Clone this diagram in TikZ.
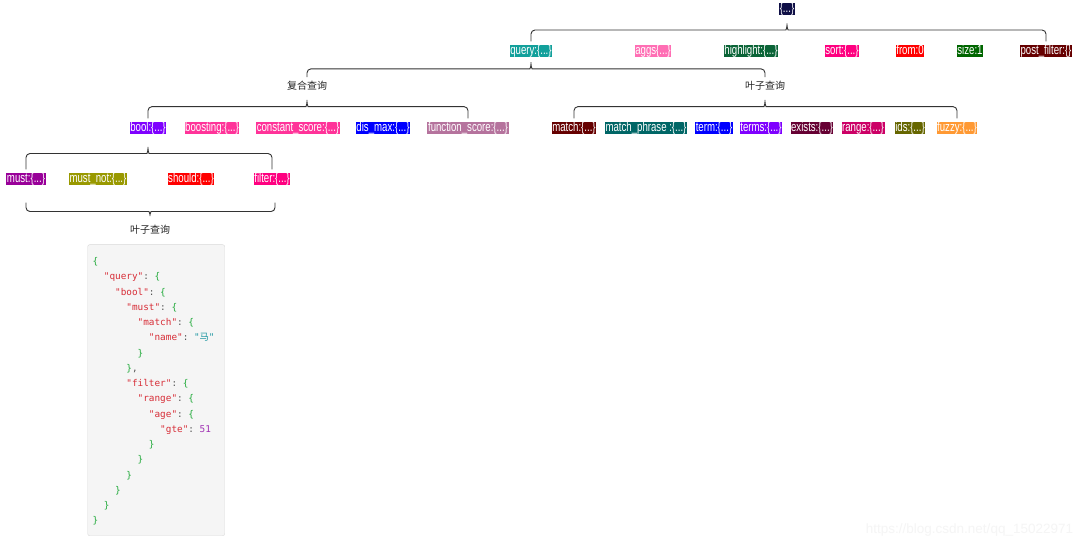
\documentclass[tikz,border=0pt]{standalone}
\usepackage{fontspec}
\setmainfont{Liberation Sans}
\newfontfamily\cjkfont{Noto Sans CJK SC}
\newfontfamily\codefont{DejaVu Sans Mono}
\newfontfamily\narrowfont[FakeStretch=0.73]{Liberation Sans}
\usetikzlibrary{calc}
\definecolor{croot}{RGB}{15,15,70}
\definecolor{cquery}{RGB}{18,160,155}
\definecolor{caggs}{RGB}{255,110,180}
\definecolor{chighlight}{RGB}{10,100,55}
\definecolor{csort}{RGB}{255,0,128}
\definecolor{cfrom}{RGB}{255,0,0}
\definecolor{csize}{RGB}{0,102,0}
\definecolor{cpost}{RGB}{102,0,0}
\definecolor{cbool}{RGB}{127,0,255}
\definecolor{cboost}{RGB}{255,51,153}
\definecolor{cdismax}{RGB}{0,0,255}
\definecolor{cfunc}{RGB}{181,115,157}
\definecolor{cphrase}{RGB}{0,102,102}
\definecolor{cexists}{RGB}{102,0,51}
\definecolor{crange}{RGB}{204,0,102}
\definecolor{cids}{RGB}{102,102,0}
\definecolor{cfuzzy}{RGB}{255,153,51}
\definecolor{cmust}{RGB}{153,0,153}
\definecolor{cmustnot}{RGB}{153,153,0}
\definecolor{jsonkey}{RGB}{215,45,55}
\definecolor{jsonbrace}{RGB}{35,170,60}
\definecolor{jsonstr}{RGB}{30,150,160}
\definecolor{jsonnum}{RGB}{160,50,180}
\definecolor{jsonpunct}{RGB}{85,85,85}
\newcommand{\fieldfont}{\narrowfont\fontsize{13.2}{15}\selectfont}
\newcommand{\jk}[1]{\textcolor{jsonkey}{"#1"}\textcolor{jsonpunct}{:}\ }
\newcommand{\jo}{\textcolor{jsonbrace}{\{}}
\newcommand{\jc}{\textcolor{jsonbrace}{\}}}
\newcommand{\ind}[1]{\hspace*{#1\dimexpr1.204em\relax}}
\newcommand{\treebrace}[3]{%
  \draw [brace] let \p1=(#1.south), \p2=(#2.north), \p3=(#3.north), \p4=($(#1.south)!0.5!(#2.north)$) in
    (\x2,\y2+3pt) -- (\x2,\y4) -- (\x1-5pt,\y4) .. controls (\x1-1.5pt,\y4) and (\x1,\y4+1.5pt) .. (\x1,\y4+9pt)
    .. controls (\x1,\y4+1.5pt) and (\x1+1.5pt,\y4) .. (\x1+5pt,\y4) -- (\x3,\y4) -- (\x3,\y3+3pt);}
\tikzset{
  field/.style={fill=#1, text=white, font=\fieldfont, inner xsep=0.6pt, inner ysep=0pt, text height=9.9pt, text depth=2.8pt},
  group/.style={font=\cjkfont\fontsize{10}{12}\selectfont, text=black!85, inner sep=1pt},
  brace/.style={draw=black!80, line width=0.9pt, rounded corners=4pt},
  codebox/.style={draw=black!15, fill=black!4, rounded corners=2pt, minimum width=137pt, minimum height=291pt, anchor=north west, inner sep=0pt}
}
\begin{document}
\begin{tikzpicture}[x=1pt, y=-1pt]
    \fill [white] (0,0) rectangle (1080,545);
    \useasboundingbox (0,0) rectangle (1080,545);
    \node [field=croot] (root) at (787,9) {\{...\}};
    \node [field=cquery] (query) at (531,51) {query:\{...\}};
    \node [field=caggs] (aggs) at (653,51) {aggs\{...\}};
    \node [field=chighlight] (highlight) at (751,51) {highlight:\{...\}};
    \node [field=csort] (sort) at (842,51) {sort:\{...\}};
    \node [field=cfrom] (from) at (910,51) {from:0};
    \node [field=csize] (size) at (970,51) {size:1};
    \node [field=cpost] (postfilter) at (1046,51) {post\_filter:\{\}};
    \node [group] (compound) at (307,86) {复合查询};
    \node [group] (leaf) at (765,86) {叶子查询};
    \node [field=cbool] (bool) at (148,128) {bool:\{...\}};
    \node [field=cboost] (boosting) at (212,128) {boosting:\{...\}};
    \node [field=cboost] (constscore) at (298,128) {constant\_score:\{...\}};
    \node [field=cdismax] (dismax) at (383,128) {dis\_max:\{...\}};
    \node [field=cfunc] (funcscore) at (468,128) {function\_score:\{...\}};
    \node [field=cpost] (match) at (574,128) {match:\{...\}};
    \node [field=cphrase] (phrase) at (646,128) {match\_phrase :\{...\}};
    \node [field=cdismax] (term) at (714,128) {term:\{...\}};
    \node [field=cbool] (terms) at (761,128) {terms:\{...\}};
    \node [field=cexists] (exists) at (812,128) {exists:\{...\}};
    \node [field=crange] (range) at (863,128) {range:\{...\}};
    \node [field=cids] (ids) at (910,128) {ids:\{...\}};
    \node [field=cfuzzy] (fuzzy) at (957,128) {fuzzy:\{...\}};
    \node [field=cmust] (must) at (26,179) {must:\{...\}};
    \node [field=cmustnot] (mustnot) at (98,179) {must\_not:\{...\}};
    \node [field=cfrom] (should) at (191,179) {should:\{...\}};
    \node [field=csort] (filter) at (272,179) {filter:\{...\}};
    \node [group] (leafb) at (150,230) {叶子查询};
    \treebrace{root}{query}{postfilter}
    \treebrace{query}{compound}{leaf}
    \treebrace{compound}{bool}{funcscore}
    \treebrace{leaf}{match}{fuzzy}
    \treebrace{bool}{must}{filter}
    \draw [brace] let \p1=(must.south), \p2=(filter.south), \p3=(leafb.north) in
      (\x1,\y1-17pt) -- (\x1,\y1-26pt) -- (\x3-5pt,\y1-26pt) .. controls (\x3-1.5pt,\y1-26pt) and (\x3,\y1-27.5pt) .. (\x3,\y1-33pt)
      .. controls (\x3,\y1-27.5pt) and (\x3+1.5pt,\y1-26pt) .. (\x3+5pt,\y1-26pt) -- (\x2+3pt,\y1-26pt) -- (\x2+3pt,\y1-17pt);
    \node [codebox] (codebg) at (87.5,244.5) {};
    \node [anchor=north west, align=left, inner sep=0pt, font=\codefont\fontsize{9.35}{15.25}\selectfont] (code) at (92.5,257.4) {%
      \jo\\
      \ind{1}\jk{query}\jo\\
      \ind{2}\jk{bool}\jo\\
      \ind{3}\jk{must}\jo\\
      \ind{4}\jk{match}\jo\\
      \ind{5}\jk{name}\textcolor{jsonstr}{"{\cjkfont 马}"}\\
      \ind{4}\jc\\
      \ind{3}\jc\textcolor{jsonpunct}{,}\\
      \ind{3}\jk{filter}\jo\\
      \ind{4}\jk{range}\jo\\
      \ind{5}\jk{age}\jo\\
      \ind{6}\jk{gte}\textcolor{jsonnum}{51}\\
      \ind{5}\jc\\
      \ind{4}\jc\\
      \ind{3}\jc\\
      \ind{2}\jc\\
      \ind{1}\jc\\
      \jc};
    \node [text=black!4, font=\fontsize{13.5}{15}\selectfont] (mark) at (969.5,530) {https://blog.csdn.net/qq\_15022971};
  \end{tikzpicture}
\end{document}
